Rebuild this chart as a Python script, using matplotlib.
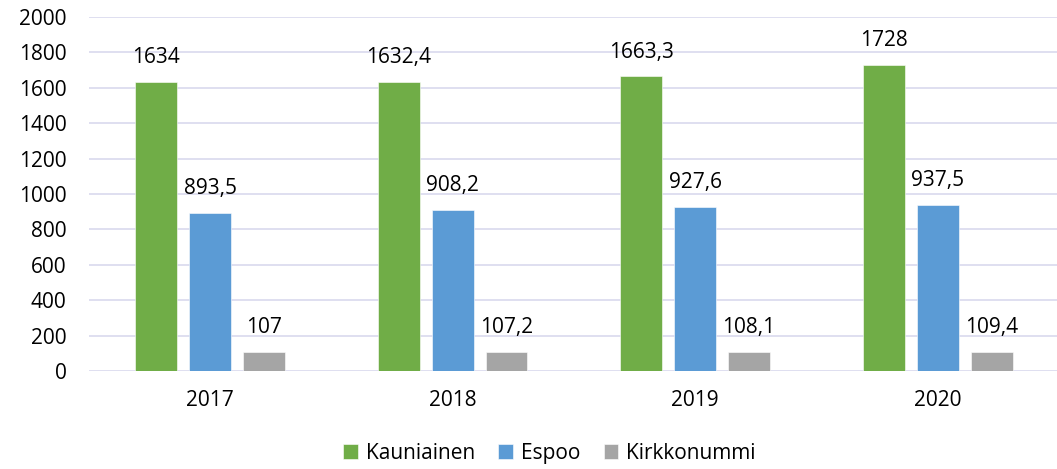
import numpy as np
import matplotlib.pyplot as plt

vuodet = ["2017", "2018", "2019", "2020"]
kauniainen = [1634, 1632.4, 1663.3, 1728]
espoo = [893.5, 908.2, 927.6, 937.5]
kirkkonummi = [107, 107.2, 108.1, 109.4]

sarjat = [("Kauniainen", kauniainen, "#70AD47"),
          ("Espoo", espoo, "#5B9BD5"),
          ("Kirkkonummi", kirkkonummi, "#A5A5A5")]

plt.rcParams['font.family'] = ['Open Sans', 'DejaVu Sans']

fig = plt.figure(figsize=(10.57, 4.69), dpi=100)
ax = fig.add_axes([0.084, 0.209, 0.918, 0.755])

x = np.arange(len(vuodet))
leveys = 0.173
vali = 0.222
for i, (nimi, arvot, vari) in enumerate(sarjat):
    pos = x + (i - 1) * vali
    ax.bar(pos, arvot, width=leveys, color=vari, label=nimi, zorder=3,
           edgecolor="white", linewidth=0.4)
    for p, v in zip(pos, arvot):
        teksti = f"{v:g}".replace(".", ",")
        ax.annotate(teksti, (p, v), xytext=(0, 10), textcoords="offset points",
                    ha="center", va="bottom", fontsize=15)

ax.set_xlim(-0.5, 3.5)
ax.set_ylim(0, 2000)
ax.set_yticks(range(0, 2001, 200))
ax.set_xticks(x)
ax.set_xticklabels(vuodet)
ax.tick_params(axis="both", length=0, labelsize=15)
ax.tick_params(axis="y", pad=16)
ax.tick_params(axis="x", pad=14)
ax.grid(axis="y", color="#D9D9EE", linewidth=1.2, zorder=0)
for s in ax.spines.values():
    s.set_visible(False)

fig.legend(loc="center", bbox_to_anchor=(0.52, 0.033), ncol=3, frameon=False,
           fontsize=15, handlelength=0.7, handleheight=0.7, columnspacing=1.1,
           handletextpad=0.4)

fig.savefig("out.png", dpi=100)
